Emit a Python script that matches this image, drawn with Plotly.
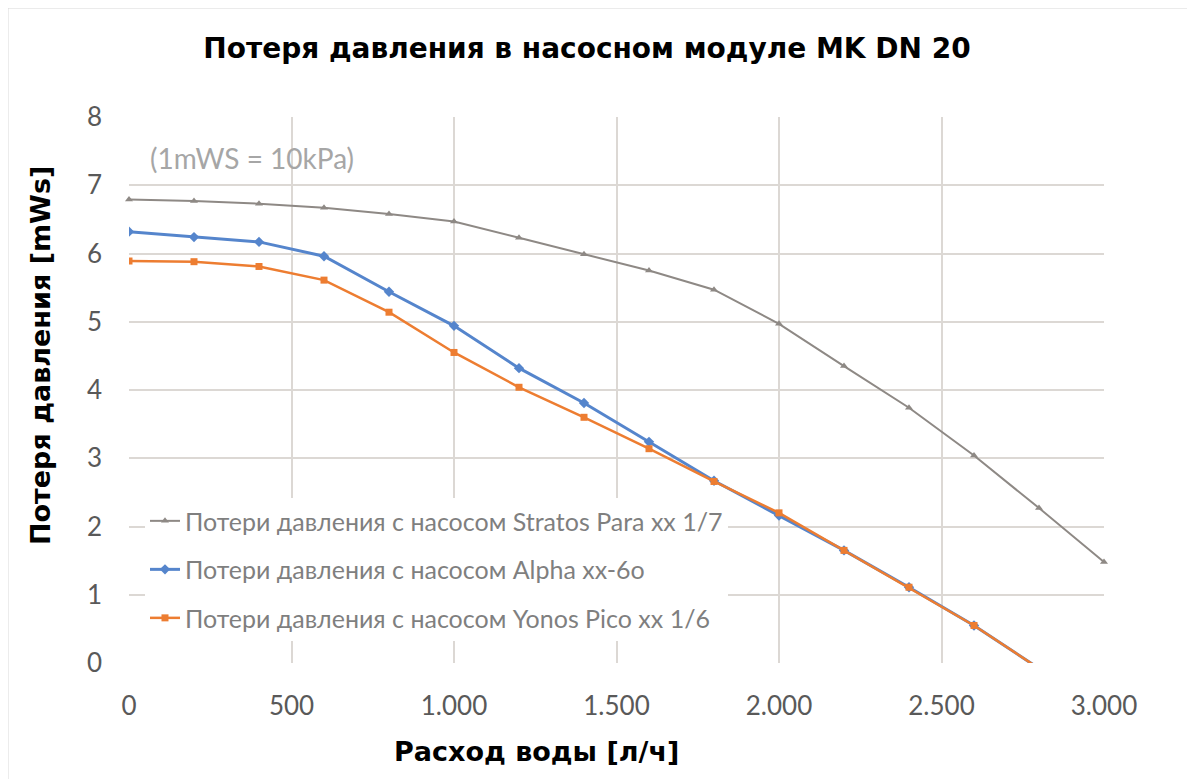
import plotly.graph_objects as go

flow = [0, 200, 400, 600, 800, 1000, 1200, 1400, 1600, 1800, 2000, 2200, 2400, 2600, 2800, 3000]
stratos = [6.79, 6.77, 6.73, 6.67, 6.58, 6.47, 6.23, 5.99, 5.75, 5.47, 4.97, 4.35, 3.74, 3.04, 2.27, 1.48]
flow_short = [0, 200, 400, 600, 800, 1000, 1200, 1400, 1600, 1800, 2000, 2200, 2400, 2600, 2800]
alpha = [6.32, 6.24, 6.17, 5.96, 5.44, 4.94, 4.32, 3.81, 3.24, 2.67, 2.16, 1.65, 1.11, 0.55, -0.08]
yonos = [5.89, 5.88, 5.81, 5.61, 5.14, 4.55, 4.04, 3.60, 3.14, 2.66, 2.20, 1.65, 1.11, 0.55, -0.08]

names = ["Потери давления с насосом Stratos Para xx 1/7",
         "Потери давления с насосом Alpha xx-6o",
         "Потери давления с насосом Yonos Pico xx 1/6"]

title = "Потеря давления в насосном модуле MK DN 20"
x_title = "Расход воды [л/ч]"
y_title = "Потеря давления [mWs]"
note = "(1mWS = 10kPa)"
x_ticks = [0, 500, 1000, 1500, 2000, 2500, 3000]
y_ticks = [0, 1, 2, 3, 4, 5, 6, 7, 8]

fig = go.Figure()
fig.add_trace(go.Scatter(x=flow, y=stratos, name=names[0], mode="lines+markers",
                         line=dict(color="#8e8985", width=2),
                         marker=dict(symbol="triangle-up", size=7, color="#8e8985"),
                         cliponaxis=False, legendgroup="a"))
fig.add_trace(go.Scatter(x=flow_short, y=alpha, name=names[1], mode="lines+markers",
                         line=dict(color="#5585cc", width=3),
                         marker=dict(symbol="diamond", size=8, color="#5585cc"),
                         cliponaxis=True, legendgroup="b"))
fig.add_trace(go.Scatter(x=flow_short, y=yonos, name=names[2], mode="lines+markers",
                         line=dict(color="#ed7d31", width=2.5),
                         marker=dict(symbol="square", size=7, color="#ed7d31"),
                         cliponaxis=True, legendgroup="c"))

title_font = dict(family="DejaVu Sans", size=27, color="black", weight="bold")

fig.update_layout(
    width=1195, height=779,
    margin=dict(l=121, r=99, t=109, b=124, autoexpand=False),
    paper_bgcolor="white", plot_bgcolor="white",
    separators=",.",
    title=dict(text=title, x=0.4845, xanchor="center", y=1 - 40 / 779, yanchor="middle",
               font=dict(family="DejaVu Sans", size=28, color="black", weight="bold")),
    xaxis=dict(range=[0, 3000], tickvals=x_ticks, tickformat=",d",
               showgrid=True, gridcolor="#dcd8d4", gridwidth=2,
               zeroline=False, showline=False,
               ticks="", ticklabelstandoff=25,
               tickfont=dict(family="Lato", size=26, color="#595959")),
    yaxis=dict(range=[0, 8], tickvals=y_ticks,
               showgrid=True, gridcolor="#dcd8d4", gridwidth=2,
               zeroline=False, showline=False,
               ticks="", ticklabelstandoff=26,
               tickfont=dict(family="Lato", size=26, color="#595959")),
    legend=dict(x=0.0164, y=0.302, xanchor="left", yanchor="top",
                bgcolor="white", tracegroupgap=13,
                font=dict(family="Lato", size=25, color="#7f7f7f")),
    showlegend=True,
)

fig.add_annotation(text=note, xref="paper", yref="paper", x=0.0195, y=0.925,
                   xanchor="left", yanchor="middle", showarrow=False,
                   font=dict(family="Lato", size=28, color="#a6a6a6"))
fig.add_annotation(text=y_title, xref="paper", yref="paper", x=-0.0913, y=0.564,
                   xanchor="center", yanchor="middle", showarrow=False, textangle=-90,
                   font=title_font)
fig.add_annotation(text=x_title, xref="paper", yref="paper", x=0.418, y=-0.163,
                   xanchor="center", yanchor="middle", showarrow=False,
                   font=title_font)

fig.add_shape(type="rect", xref="paper", yref="paper",
              x0=-0.1241, x1=1.12, y0=-0.25, y1=1.1996,
              line=dict(color="#d9d9d9", width=1), layer="below")

fig.write_html("out.html")
